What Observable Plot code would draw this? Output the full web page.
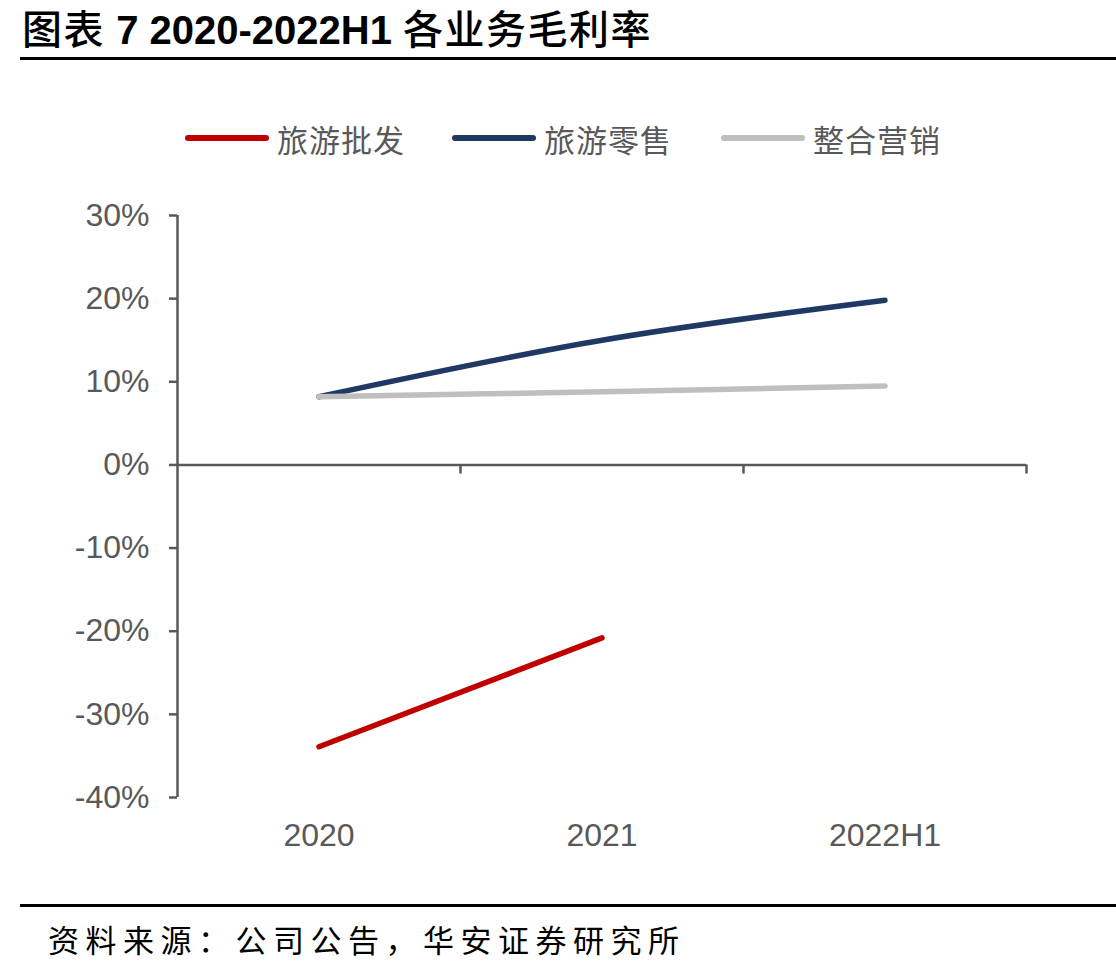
<!DOCTYPE html>
<html>
<head>
<meta charset="utf-8">
<script src="https://cdn.jsdelivr.net/npm/d3@7"></script>
<script src="https://cdn.jsdelivr.net/npm/@observablehq/plot@0.6"></script>
<style>
  html, body { margin: 0; padding: 0; background: #fff; }
  body { width: 1116px; height: 971px; position: relative; overflow: hidden; font-family: "Liberation Sans", Arial, "Noto Sans CJK SC", sans-serif; }
  #title { position: absolute; left: 22px; top: 2px; font-size: 40px; line-height: 50px; color: #000; white-space: nowrap; }
  #title .cjk { font-family: "Noto Sans CJK SC", sans-serif; font-weight: 500; letter-spacing: 1.5px; }
  #title .num { font-family: "Liberation Sans", Arial, sans-serif; font-weight: bold; }
  .rule { position: absolute; left: 20px; right: 0; height: 2.5px; background: #000; }
  #legend { position: absolute; top: 116px; left: 0; width: 1116px; height: 44px; }
  .li { position: absolute; top: 0; height: 44px; display: flex; align-items: center; }
  .sw { width: 84px; height: 6px; border-radius: 3px; margin-right: 8px; }
  .lt { font-family: "Noto Sans CJK SC", sans-serif; font-size: 31px; color: #595959; letter-spacing: 1px; }
  #chart { position: absolute; left: 0; top: 180px; }
  #source { position: absolute; left: 48px; top: 916px; font-family: "Noto Sans CJK SC", sans-serif; font-size: 31px; letter-spacing: 6.5px; color: #000; white-space: nowrap; }
</style>
</head>
<body>
<div id="title"><span class="cjk">图表</span> <span class="num">7 2020-2022H1</span> <span class="cjk">各业务毛利率</span></div>
<div class="rule" style="top:57px"></div>
<div id="legend"></div>
<div id="chart"></div>
<div class="rule" style="top:904px"></div>
<div id="source">资料来源：公司公告，华安证券研究所</div>
<script>
// ---- data ----
const categories = ["2020", "2021", "2022H1"];
const seriesNames = ["旅游批发", "旅游零售", "整合营销"];
const wholesale = [-33.9, -20.8, null];   // 旅游批发
const retail = [8.2, 15.0, 19.8];         // 旅游零售
const marketing = [8.2, 8.8, 9.5];        // 整合营销
const yTicks = [-40, -30, -20, -10, 0, 10, 20, 30];
const colors = ["#C00000", "#1F3864", "#BFBFBF"];

const seriesValues = [wholesale, retail, marketing];
const data = [];
seriesNames.forEach((s, si) => {
  categories.forEach((c, ci) => {
    data.push({series: s, idx: ci, value: seriesValues[si][ci]});
  });
});
const xDomain = [-0.5, categories.length - 0.5];
const yDomain = [d3.min(yTicks), d3.max(yTicks)];
const boundaries = categories.map((c, i) => i + 0.5);

// legend
const legend = document.getElementById("legend");
const legendLeft = [185, 452, 721];
seriesNames.forEach((s, i) => {
  const item = document.createElement("div");
  item.className = "li";
  item.style.left = legendLeft[i] + "px";
  item.innerHTML = `<div class="sw" style="background:${colors[i]}"></div><span class="lt">${s}</span>`;
  legend.appendChild(item);
});

const axisColor = "#595959";
const plot = Plot.plot({
  width: 1116,
  height: 690,
  marginLeft: 177,
  marginRight: 90,
  marginTop: 35,
  marginBottom: 73,
  style: {fontFamily: "Liberation Sans, Arial, sans-serif", background: "transparent", overflow: "visible"},
  x: {domain: xDomain, range: [177, 1026]},
  y: {domain: yDomain},
  color: {domain: seriesNames, range: colors},
  marks: [
    Plot.axisY({ticks: yTicks, tickFormat: d => d + "%", tickSize: 8, tickPadding: 20, fontSize: 32, color: axisColor, stroke: axisColor, strokeWidth: 2.5, label: null}),
    Plot.axisX({ticks: d3.range(categories.length), tickFormat: i => categories[i], tickSize: 0, tickPadding: 26, fontSize: 32, color: axisColor, label: null}),
    Plot.ruleX([xDomain[0]], {y1: yDomain[0], y2: yDomain[1], stroke: axisColor, strokeWidth: 2.5}),
    Plot.ruleY([0], {stroke: axisColor, strokeWidth: 2.5}),
    Plot.ruleX(boundaries, {y1: 0, y2: -1.1, stroke: axisColor, strokeWidth: 2.5}),
    Plot.line(data, {x: "idx", y: "value", z: "series", stroke: "series", strokeWidth: 5.5, curve: "catmull-rom", strokeLinecap: "round", strokeLinejoin: "round"})
  ]
});
document.getElementById("chart").appendChild(plot);
</script>
</body>
</html>
